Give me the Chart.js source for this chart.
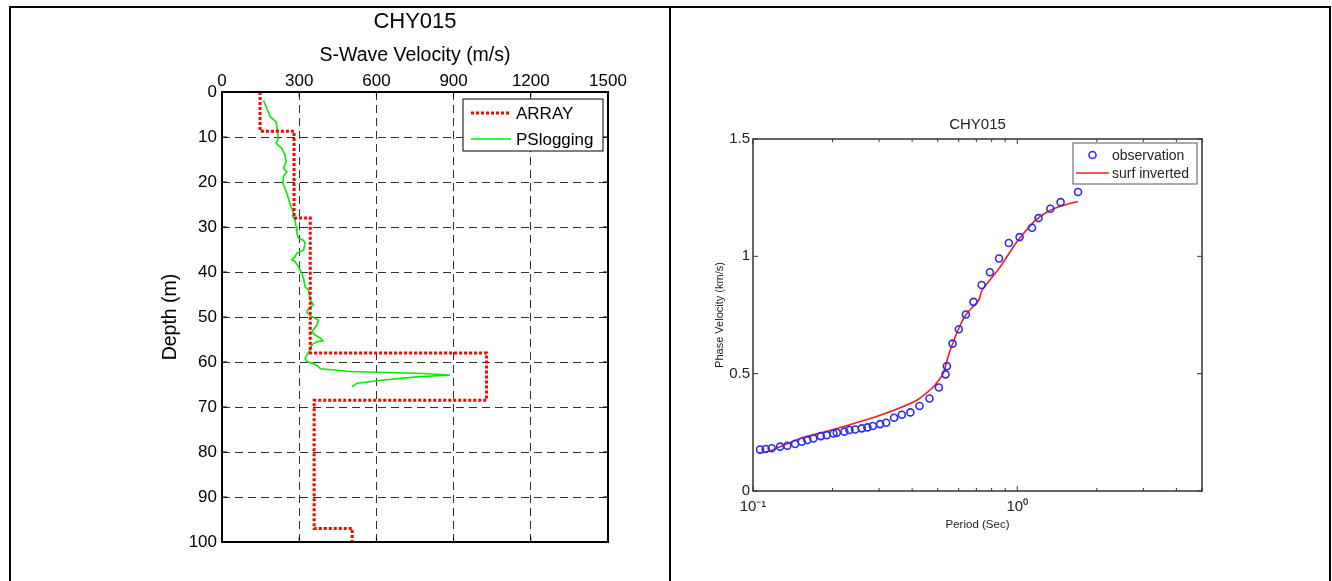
<!DOCTYPE html>
<html>
<head>
<meta charset="utf-8">
<script src="https://cdn.jsdelivr.net/npm/chart.js@4.4.1/dist/chart.umd.min.js"></script>
<style>
    html, body { margin: 0; padding: 0; background: #fff; }
    body { width: 1332px; height: 581px; position: relative; overflow: hidden; }
    #frame { position: absolute; left: 9px; top: 6px; width: 1318px; height: 600px; border: 2px solid #000; border-bottom: none; }
    #divider { position: absolute; left: 669px; top: 6px; width: 2px; height: 600px; background: #000; }
    canvas { position: absolute; }
    #left { left: 10px; top: 8px; }
    #right { left: 671px; top: 8px; }
</style>
</head>
<body>
<div id="frame"></div>
<div id="divider"></div>
<canvas id="left" width="660" height="573"></canvas>
<canvas id="right" width="660" height="573"></canvas>
<script>
"use strict";

// left panel - S-wave velocity profile
const velocityTicks = [0, 300, 600, 900, 1200, 1500];
const depthTicks = [0, 10, 20, 30, 40, 50, 60, 70, 80, 90, 100];

const arrayVs = [148, 148, 280, 280, 343, 343, 1028, 1028, 358, 358, 506, 506];
const arrayDepth = [0, 8.7, 8.7, 28, 28, 58, 58, 68.5, 68.5, 97, 97, 100];

const psVs = [161, 174, 187, 210, 215, 219, 210, 232, 245, 249, 239, 252, 239, 236, 242, 252, 262, 271, 278, 275,
    284, 288, 291, 297, 317, 323, 317, 291, 284, 271, 284, 297, 310, 317, 323, 336, 343, 356, 336, 330,
    349, 375, 369, 349, 362, 382, 392, 369, 349, 343, 330, 323, 330, 356, 375, 382, 499, 759, 886, 759,
    628, 525, 505];
const psDepth = [1.9, 3.6, 5.5, 6.6, 8.4, 10.3, 11.4, 12.5, 14, 15.5, 17, 17.7, 18.8, 20.3, 21, 22.5, 24.4, 25.9, 27, 27.7,
    28.4, 29.9, 31.4, 32.5, 33, 33.6, 35.1, 35.8, 36.6, 37.3, 37.7, 38.8, 40.3, 41.4, 43.3, 44, 46.2, 47.3, 48.1, 49,
    49.9, 50.7, 51.8, 53.3, 54, 54.7, 55.3, 55.5, 56.2, 57.3, 58.4, 59.2, 59.9, 60.4, 61, 61.5, 62.1, 62.5, 62.9, 63.3,
    64, 64.7, 65.5];

// right panel - dispersion curve
const periodTicks = [0.1, 0.2, 0.3, 0.4, 0.5, 0.6, 0.7, 0.8, 0.9, 1, 2, 3, 4, 5];
const phaseTicks = [0, 0.5, 1, 1.5];

const obsPeriod = [0.1063, 0.1117, 0.1177, 0.1266, 0.1349, 0.1443, 0.1529, 0.1606, 0.1692, 0.1805,
    0.1902, 0.2015, 0.2075, 0.2218, 0.2317, 0.2435, 0.258, 0.271, 0.2841, 0.3027,
    0.319, 0.342, 0.3658, 0.394, 0.4266, 0.4653, 0.505, 0.5353, 0.5416, 0.569,
    0.601, 0.639, 0.683, 0.733, 0.788, 0.853, 0.929, 1.02, 1.137, 1.204,
    1.334, 1.459, 1.698];
const obsVel = [0.177, 0.179, 0.182, 0.189, 0.193, 0.2, 0.21, 0.217, 0.224, 0.234,
    0.238, 0.245, 0.248, 0.253, 0.26, 0.262, 0.267, 0.271, 0.277, 0.285,
    0.291, 0.312, 0.325, 0.335, 0.362, 0.394, 0.441, 0.497, 0.532, 0.628,
    0.689, 0.752, 0.806, 0.878, 0.932, 0.991, 1.057, 1.082, 1.122, 1.163,
    1.203, 1.231, 1.274];

const invPeriod = [0.1047, 0.1177, 0.1508, 0.2015, 0.3027, 0.417, 0.4818, 0.525, 0.547, 0.563,
    0.604, 0.644, 0.715, 0.735, 0.861, 0.966, 1.056, 1.171, 1.296, 1.455, 1.698];
const invVel = [0.16, 0.174, 0.224, 0.262, 0.323, 0.387, 0.444, 0.501, 0.571, 0.614,
    0.699, 0.756, 0.813, 0.855, 0.954, 1.04, 1.097, 1.153, 1.189, 1.213, 1.234];

const FONT = "'Liberation Sans', Arial, Helvetica, sans-serif";
Chart.defaults.font.family = FONT;
Chart.defaults.color = '#000';
Chart.defaults.animation = false;

const toPoints = (xs, ys) => xs.map((x, i) => ({x: x, y: ys[i]}));
const fixedTicks = (list) => (scale) => {
    scale.ticks = list.map((v) => ({value: v}));
};

// box around the plot with small inward tick marks (matlab style)
const framePlugin = {
    id: 'frame',
    afterDraw(chart, args, opts) {
        const {ctx, chartArea: a} = chart;
        const xs = chart.scales.x;
        const ys = chart.scales.y;
        ctx.save();
        ctx.strokeStyle = opts.color;
        ctx.lineWidth = 1;
        ctx.beginPath();
        xs.ticks.forEach((t) => {
            let px = xs.getPixelForValue(t.value);
            let lg = Math.log10(t.value);
            let len = opts.minor && Math.abs(lg - Math.round(lg)) > 1e-9 ? opts.minor : opts.tick;
            ctx.moveTo(px, a.top);
            ctx.lineTo(px, a.top + len);
            ctx.moveTo(px, a.bottom);
            ctx.lineTo(px, a.bottom - len);
        });
        ys.ticks.forEach((t) => {
            let py = ys.getPixelForValue(t.value);
            ctx.moveTo(a.left, py);
            ctx.lineTo(a.left + opts.tick, py);
            ctx.moveTo(a.right, py);
            ctx.lineTo(a.right - opts.tick, py);
        });
        ctx.stroke();
        ctx.lineWidth = opts.width;
        ctx.strokeRect(a.left, a.top, a.right - a.left, a.bottom - a.top);
        ctx.restore();
    }
};

// legend drawn inside the plot, top right, with a border
const boxLegend = {
    id: 'boxLegend',
    afterDraw(chart, args, o) {
        const {ctx, chartArea: a} = chart;
        let x = a.right - o.marginRight - o.width;
        let y = a.top + o.marginTop;
        ctx.save();
        ctx.fillStyle = '#fff';
        ctx.fillRect(x, y, o.width, o.height);
        ctx.strokeStyle = o.borderColor;
        ctx.lineWidth = 1;
        ctx.strokeRect(x, y, o.width, o.height);
        chart.data.datasets.forEach((ds, i) => {
            let ry = y + o.rows[i];
            ctx.save();
            if (ds.showLine) {
                ctx.strokeStyle = ds.borderColor;
                ctx.lineWidth = ds.borderWidth;
                ctx.setLineDash(ds.borderDash || []);
                ctx.beginPath();
                ctx.moveTo(x + o.sample[0], ry);
                ctx.lineTo(x + o.sample[1], ry);
                ctx.stroke();
            } else {
                ctx.strokeStyle = ds.pointBorderColor;
                ctx.lineWidth = ds.pointBorderWidth;
                ctx.beginPath();
                ctx.arc(x + (o.sample[0] + o.sample[1]) / 2, ry, ds.pointRadius, 0, Math.PI * 2);
                ctx.stroke();
            }
            ctx.restore();
            ctx.fillStyle = o.textColor;
            ctx.font = o.font;
            ctx.textBaseline = 'middle';
            ctx.fillText(ds.label, x + o.textX, ry + 1);
        });
        ctx.restore();
    }
};

new Chart(document.getElementById('left'), {
    type: 'scatter',
    data: {
        datasets: [
            {
                label: 'ARRAY',
                data: toPoints(arrayVs, arrayDepth),
                showLine: true,
                borderColor: '#ff0000',
                borderWidth: 3,
                borderDash: [3, 2],
                pointRadius: 0,
                fill: false
            },
            {
                label: 'PSlogging',
                data: toPoints(psVs, psDepth),
                showLine: true,
                borderColor: '#00ee00',
                borderWidth: 1.6,
                pointRadius: 0,
                fill: false
            }
        ]
    },
    options: {
        responsive: false,
        layout: {padding: {left: 140, right: 62, top: 0, bottom: 39}},
        scales: {
            x: {
                type: 'linear',
                position: 'top',
                min: 0,
                max: 1500,
                afterBuildTicks: fixedTicks(velocityTicks),
                afterFit: (scale) => { scale.height = 53.6; },
                ticks: {font: {size: 17}, padding: 0, maxRotation: 0, autoSkip: false, callback: (v) => String(v)},
                grid: {color: '#333', lineWidth: 1, drawTicks: false},
                border: {display: false, dash: [8, 5]},
                title: {display: true, text: 'S-Wave Velocity (m/s)', font: {size: 19.5}, padding: {top: 6, bottom: 0}}
            },
            y: {
                type: 'linear',
                reverse: true,
                min: 0,
                max: 100,
                afterBuildTicks: fixedTicks(depthTicks),
                afterFit: (scale) => { scale.width = 72; },
                ticks: {font: {size: 17}, padding: 5, autoSkip: false},
                grid: {color: '#333', lineWidth: 1, drawTicks: false},
                border: {display: false, dash: [8, 5]},
                title: {display: true, text: 'Depth (m)', font: {size: 19.5}, padding: {top: 9, bottom: 0}}
            }
        },
        plugins: {
            legend: {display: false},
            tooltip: {enabled: false},
            title: {display: true, text: 'CHY015', fullSize: false, font: {size: 22, weight: 'normal'}, color: '#000', padding: {top: 1, bottom: 3}},
            frame: {color: '#000', width: 2, tick: 5},
            boxLegend: {
                width: 140, height: 52, marginRight: 5, marginTop: 7,
                rows: [14, 40], sample: [8, 48], textX: 53,
                font: '17px ' + FONT, textColor: '#000', borderColor: '#000'
            }
        }
    },
    plugins: [framePlugin, boxLegend]
});

new Chart(document.getElementById('right'), {
    type: 'scatter',
    data: {
        datasets: [
            {
                label: 'observation',
                data: toPoints(obsPeriod, obsVel),
                showLine: false,
                pointStyle: 'circle',
                pointRadius: 3.5,
                pointBorderWidth: 1.6,
                pointBorderColor: '#2b2bf0',
                pointBackgroundColor: 'rgba(0,0,0,0)'
            },
            {
                label: 'surf inverted',
                data: toPoints(invPeriod, invVel),
                showLine: true,
                borderColor: '#f21c1c',
                borderWidth: 1.6,
                pointRadius: 0,
                tension: 0.2,
                fill: false
            }
        ]
    },
    options: {
        responsive: false,
        layout: {padding: {left: 30, right: 129, top: 100, bottom: 48}},
        scales: {
            x: {
                type: 'logarithmic',
                min: 0.1,
                max: 5,
                afterBuildTicks: fixedTicks(periodTicks),
                afterFit: (scale) => { scale.height = 42; },
                ticks: {
                    font: {size: 15}, color: '#222', padding: 7, maxRotation: 0, autoSkip: false,
                    callback: (v) => (v === 0.1 ? '10\u207B\u00B9' : (v === 1 ? '10\u2070' : ''))
                },
                grid: {display: false, drawTicks: false},
                border: {display: false},
                title: {display: true, text: 'Period (Sec)', color: '#222', font: {size: 11.5}, padding: {top: 0, bottom: 1}}
            },
            y: {
                type: 'linear',
                min: 0,
                max: 1.5,
                afterBuildTicks: fixedTicks(phaseTicks),
                afterFit: (scale) => { scale.width = 52; },
                ticks: {font: {size: 15}, color: '#222', padding: 3, autoSkip: false, callback: (v) => String(v)},
                grid: {display: false, drawTicks: false},
                border: {display: false},
                title: {display: true, text: 'Phase Velocity (km/s)', color: '#222', font: {size: 11}, padding: {top: 12.4, bottom: 0}}
            }
        },
        plugins: {
            legend: {display: false},
            tooltip: {enabled: false},
            title: {display: true, text: 'CHY015', fullSize: false, font: {size: 15, weight: 'normal'}, color: '#222', padding: {top: 8, bottom: 5}},
            frame: {color: '#333', width: 1.5, tick: 5, minor: 3},
            boxLegend: {
                width: 124, height: 41, marginRight: 5, marginTop: 4,
                rows: [12, 30], sample: [3, 36], textX: 39,
                font: '14px ' + FONT, textColor: '#222', borderColor: '#555'
            }
        }
    },
    plugins: [framePlugin, boxLegend]
});
</script>
</body>
</html>
